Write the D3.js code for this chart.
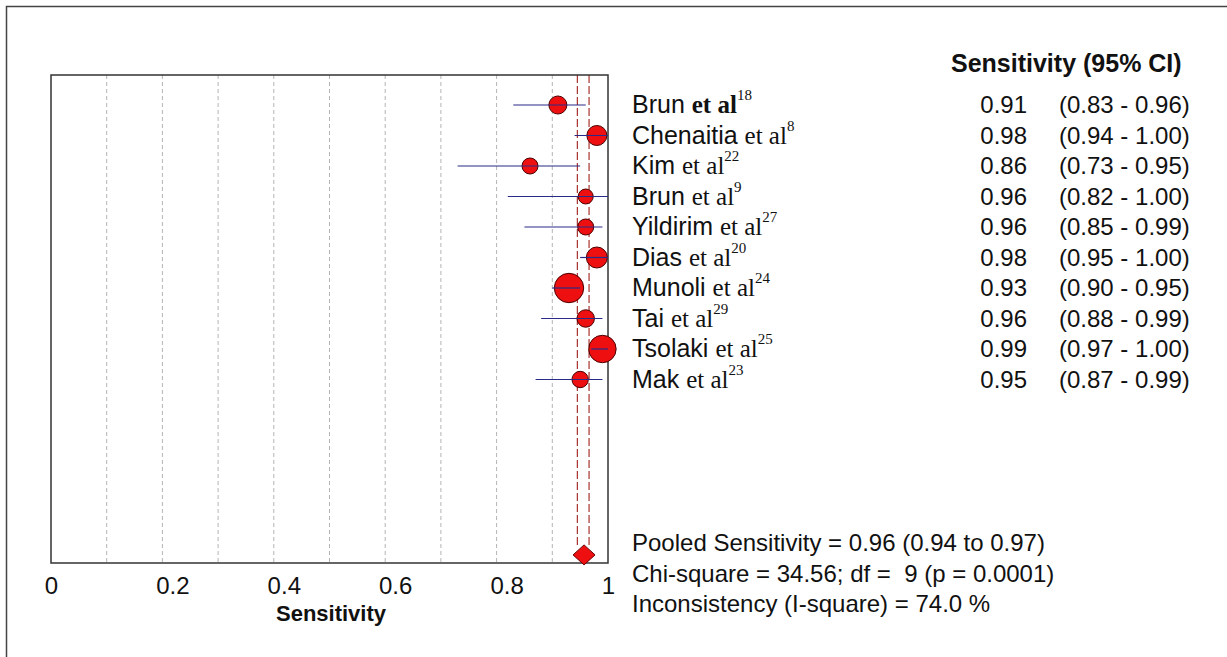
<!DOCTYPE html>
<html>
<head>
<meta charset="utf-8">
<script src="https://cdn.jsdelivr.net/npm/d3@7"></script>
<style>
  body { margin: 0; background: #fff; }
  svg { display: block; }
  .sans { font-family: "Liberation Sans", Arial, sans-serif; }
  .serif { font-family: "Liberation Serif", "Times New Roman", serif; }
</style>
</head>
<body>
<div id="chart"></div>
<script>
// forest plot of sensitivity, one row per study + pooled estimate

const studies = ['Brun', 'Chenaitia', 'Kim', 'Brun', 'Yildirim', 'Dias', 'Munoli', 'Tai', 'Tsolaki', 'Mak'];
const refs = ['18', '8', '22', '9', '27', '20', '24', '29', '25', '23'];
const sens = [0.91, 0.98, 0.86, 0.96, 0.96, 0.98, 0.93, 0.96, 0.99, 0.95];
const lower = [0.83, 0.94, 0.73, 0.82, 0.85, 0.95, 0.90, 0.88, 0.97, 0.87];
const upper = [0.96, 1.00, 0.95, 1.00, 0.99, 1.00, 0.95, 0.99, 1.00, 0.99];
// relative study weight (marker area)
const weights = [81, 100, 64, 56, 64, 110, 216, 76, 188, 67];

const pooledEst = 0.957;
const pooledLow = 0.945;
const pooledHigh = 0.966;
const statsLines = [
    'Pooled Sensitivity = 0.96 (0.94 to 0.97)',
    'Chi-square = 34.56; df =  9 (p = 0.0001)',
    'Inconsistency (I-square) = 74.0 %'
];
const tickValues = [0, 0.2, 0.4, 0.6, 0.8, 1];
const gridValues = [0.1, 0.2, 0.3, 0.4, 0.5, 0.6, 0.7, 0.8, 0.9];

var width = 1227, height = 657;
var plot = {left: 51, right: 608, top: 75, bottom: 563};

const svg = d3.select('#chart')
    .append('svg')
    .attr('width', width)
    .attr('height', height);

// outer border
svg.append('rect')
    .attr('x', 6.5).attr('y', 6.5)
    .attr('width', width + 20).attr('height', height + 20)
    .attr('fill', 'none')
    .attr('stroke', '#444')
    .attr('stroke-width', 1.5);

const x = d3.scaleLinear().domain([0, 1]).range([plot.left, plot.right]);
// study rows 0..9, pooled row further down
const y = d3.scaleLinear().domain([0, 9]).range([105, 379.5]);
const r = d3.scaleSqrt().domain([0, d3.max(weights)]).range([0, 14.7]);

// grid
svg.append('g')
    .selectAll('line')
    .data(gridValues)
    .join('line')
    .attr('x1', d => x(d)).attr('x2', d => x(d))
    .attr('y1', plot.top).attr('y2', plot.bottom)
    .attr('stroke', '#b4b4b4')
    .attr('stroke-width', 1)
    .attr('stroke-dasharray', '4,3');

// pooled lines
const pooledY = y(14.75);
svg.append('g')
    .selectAll('line')
    .data([pooledLow, pooledHigh])
    .join('line')
    .attr('x1', d => x(d)).attr('x2', d => x(d))
    .attr('y1', plot.top).attr('y2', pooledY - 10)
    .attr('stroke', '#a8322e')
    .attr('stroke-width', 1.2)
    .attr('stroke-dasharray', '8,3');

// frame
svg.append('rect')
    .attr('x', plot.left).attr('y', plot.top)
    .attr('width', plot.right - plot.left)
    .attr('height', plot.bottom - plot.top)
    .attr('fill', 'none')
    .attr('stroke', '#333')
    .attr('stroke-width', 1.5);

const rows = studies.map((s, i) => ({name: s, ref: refs[i], est: sens[i], lo: lower[i], hi: upper[i], w: weights[i], i: i}));

// markers
svg.append('g')
    .selectAll('circle')
    .data(rows)
    .join('circle')
    .attr('cx', d => x(d.est))
    .attr('cy', d => y(d.i))
    .attr('r', d => r(d.w))
    .attr('fill', '#ee1010')
    .attr('stroke', '#4a0000')
    .attr('stroke-width', 1);

// CI lines on top
svg.append('g')
    .selectAll('line')
    .data(rows)
    .join('line')
    .attr('x1', d => x(d.lo)).attr('x2', d => x(d.hi))
    .attr('y1', d => y(d.i)).attr('y2', d => y(d.i))
    .attr('stroke', '#2a2a88')
    .attr('stroke-width', 1.2);

// diamond
svg.append('path')
    .attr('d', `M${x(pooledEst) - 11},${pooledY} L${x(pooledEst)},${pooledY - 10} L${x(pooledEst) + 11},${pooledY} L${x(pooledEst)},${pooledY + 10} Z`)
    .attr('fill', '#ee1010')
    .attr('stroke', '#6a0000')
    .attr('stroke-width', 1);

// x axis labels
const axis = svg.append('g')
    .attr('transform', `translate(0, ${plot.bottom})`)
    .call(d3.axisBottom(x).tickValues(tickValues).tickSize(0).tickPadding(31).tickFormat(d3.format('~g')));
axis.select('.domain').remove();
axis.selectAll('text')
    .attr('class', 'sans')
    .attr('font-size', 24)
    .attr('fill', '#111')
    .attr('dy', 0)
    .attr('dx', d => (d > 0 && d < 1) ? 10 : 0);

svg.append('text')
    .attr('class', 'sans')
    .attr('x', 331).attr('y', 621)
    .attr('text-anchor', 'middle')
    .attr('font-size', 22)
    .attr('font-weight', 'bold')
    .attr('fill', '#111')
    .text('Sensitivity');

// study labels
const labels = svg.append('g')
    .selectAll('text')
    .data(rows)
    .join('text')
    .attr('x', 632)
    .attr('y', d => y(d.i) + 8)
    .attr('fill', '#111');
labels.append('tspan')
    .attr('class', 'sans')
    .attr('font-size', 25)
    .text(d => d.name + ' ');
labels.append('tspan')
    .attr('class', 'serif')
    .attr('font-size', 25)
    .attr('font-weight', d => d.i == 0 ? 'bold' : 'normal')
    .text('et al');
labels.append('tspan')
    .attr('class', 'serif')
    .attr('font-size', 15)
    .attr('dy', -13)
    .text(d => d.ref);

// header + value columns
svg.append('text')
    .attr('class', 'sans')
    .attr('x', 951).attr('y', 72)
    .attr('font-size', 25)
    .attr('font-weight', 'bold')
    .attr('fill', '#111')
    .text('Sensitivity (95% CI)');

svg.append('g')
    .selectAll('text')
    .data(rows)
    .join('text')
    .attr('class', 'sans')
    .attr('x', 1027)
    .attr('y', d => y(d.i) + 8)
    .attr('text-anchor', 'end')
    .attr('font-size', 24)
    .attr('fill', '#111')
    .text(d => d.est.toFixed(2));

svg.append('g')
    .selectAll('text')
    .data(rows)
    .join('text')
    .attr('class', 'sans')
    .attr('x', 1059)
    .attr('y', d => y(d.i) + 8)
    .attr('font-size', 24)
    .attr('fill', '#111')
    .text(d => `(${d.lo.toFixed(2)} - ${d.hi.toFixed(2)})`);

// pooled statistics
svg.append('g')
    .selectAll('text')
    .data(statsLines)
    .join('text')
    .attr('class', 'sans')
    .attr('x', 632)
    .attr('y', (d, i) => 551 + i * 30.5)
    .attr('font-size', 24)
    .attr('fill', '#111')
    .style('white-space', 'pre')
    .text(d => d);
</script>
</body>
</html>
